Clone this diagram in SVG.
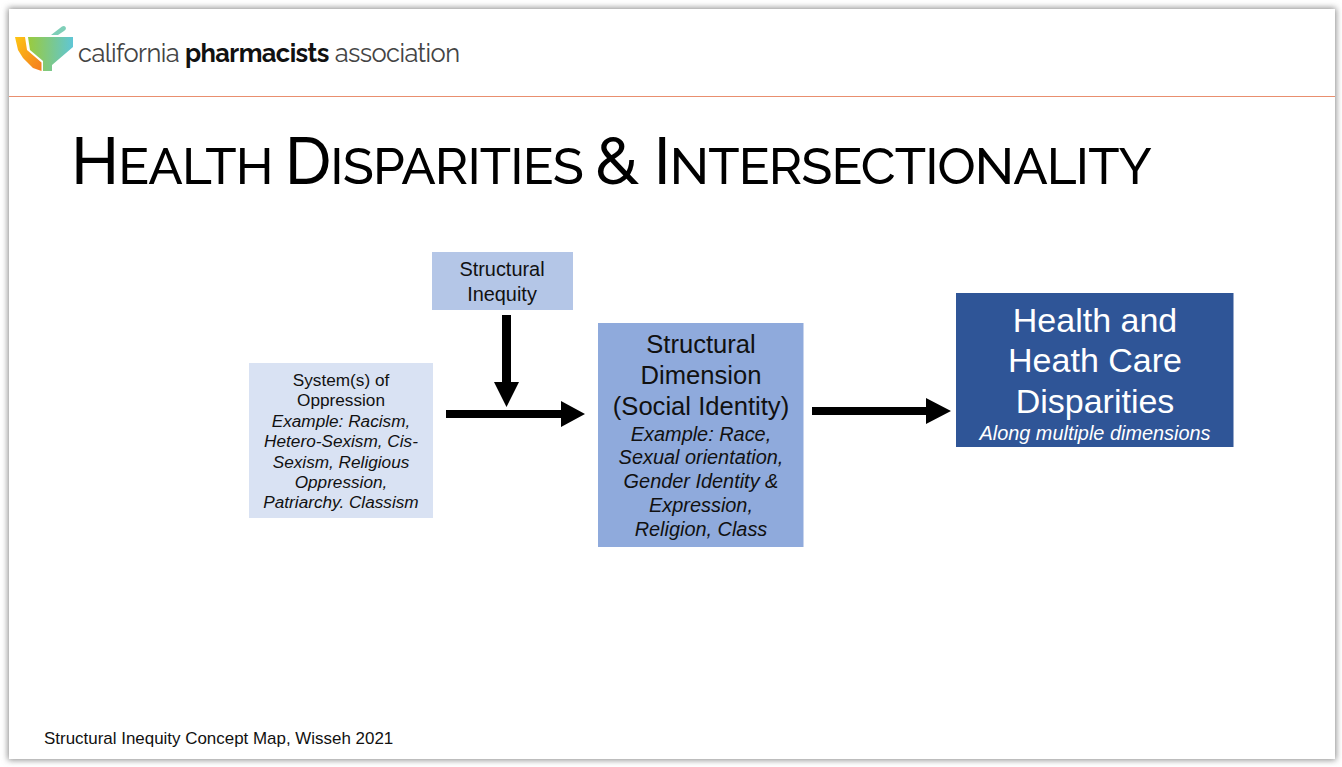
<svg xmlns="http://www.w3.org/2000/svg" width="1342" height="767" viewBox="0 0 1342 767">
<style>
.a{font-family:"Liberation Sans",Arial,sans-serif;text-anchor:middle;fill:#111}
.i{font-style:italic}
.s{font-size:17.200px}
.m{font-size:19.900px}
.l{font-size:25.600px}
.w{fill:#fff}
.h{font-size:34px}
.sc{font-size:51px}
</style>
<defs>
<linearGradient id="bowl" x1="0" x2="1" y1="0" y2="0"><stop offset="0" stop-color="#9acb3c"/><stop offset="1" stop-color="#5fc6d6"/></linearGradient>
<linearGradient id="ca" x1="0" x2="1" y1="0" y2="1"><stop offset="0" stop-color="#fdc514"/><stop offset="1" stop-color="#f47b20"/></linearGradient>
<filter id="sh" x="-2%" y="-2%" width="104%" height="104%"><feGaussianBlur stdDeviation="3"/></filter>
</defs>
<rect width="1342" height="767" fill="#fff"/>
<rect x="8" y="8" width="1328" height="752" fill="#8a8a8a" filter="url(#sh)"/>
<rect x="9" y="9" width="1326" height="750" fill="#fff"/>
<g id="logo">
<path d="M51 35 L62 26.500 Q65 25 66 28 Q66 30 64 31 L58 35Z" fill="#7fcfb8"/>
<path d="M28 37 H73 V47 L52 65 V71 H43 V61 L30 50Z" fill="url(#bowl)"/>
<path d="M15 37 H25 L27 50 L41.500 62.500 V71 L33 68 L23 58 L18 50Z" fill="url(#ca)"/>
<text x="78" y="62" font-family="Raleway,Lato,sans-serif" font-size="25.500px" fill="#444" textLength="382">california <tspan font-weight="700" fill="#111">pharmacists</tspan> association</text>
</g>
<rect id="rule" x="9" y="96" width="1326" height="1" fill="#e98f6f"/>
<text id="title" x="71" y="184" font-family="Raleway,Lato,'Open Sans',sans-serif" font-size="65px" font-weight="500" fill="#000" textLength="1081">H<tspan class="sc">EALTH </tspan>D<tspan class="sc">ISPARITIES </tspan>&amp; I<tspan class="sc">NTERSECTIONALITY</tspan></text>
<g id="connectors" fill="#000">
<path d="M446 410 H561 V401 L585 414 L561 427 V418 H446Z"/>
<path d="M502 315 H511 V382 H519 L506.500 407 L494 382 H502Z"/>
<path d="M812 407 H926 V398 L951 411 L926 424 V415 H812Z"/>
</g>
<g id="structural-inequity">
<rect x="432" y="252" width="141" height="58" fill="#b4c6e7"/>
<text class="a m" x="502" y="276">Structural</text>
<text class="a m" x="502" y="301">Inequity</text>
</g>
<g id="systems-of-oppression">
<rect x="249" y="363" width="184" height="155" fill="#d9e2f3"/>
<text class="a s" x="341" y="386">System(s) of</text>
<text class="a s" x="341" y="406">Oppression</text>
<text class="a s i" x="341" y="427">Example: Racism,</text>
<text class="a s i" x="341" y="447">Hetero-Sexism, Cis-</text>
<text class="a s i" x="341" y="468">Sexism, Religious</text>
<text class="a s i" x="341" y="488">Oppression,</text>
<text class="a s i" x="341" y="508">Patriarchy. Classism</text>
</g>
<g id="structural-dimension">
<rect x="598" y="323" width="205.500" height="224" fill="#8faadc"/>
<text class="a l" x="701" y="353">Structural</text>
<text class="a l" x="701" y="384">Dimension</text>
<text class="a l" x="701" y="415">(Social Identity)</text>
<text class="a m i" x="701" y="441">Example: Race,</text>
<text class="a m i" x="701" y="464">Sexual orientation,</text>
<text class="a m i" x="701" y="488">Gender Identity &amp;</text>
<text class="a m i" x="701" y="512">Expression,</text>
<text class="a m i" x="701" y="536">Religion, Class</text>
</g>
<g id="disparities">
<rect x="956" y="293" width="277.500" height="154" fill="#2f5597"/>
<text class="a w h" x="1095" y="332">Health and</text>
<text class="a w h" x="1095" y="372">Heath Care</text>
<text class="a w h" x="1095" y="413">Disparities</text>
<text class="a w m i" x="1095" y="440">Along multiple dimensions</text>
</g>
<text id="source" x="44" y="744" font-family="'Liberation Sans',Arial,sans-serif" font-size="16.950px" fill="#111">Structural Inequity Concept Map, Wisseh 2021</text>
</svg>
